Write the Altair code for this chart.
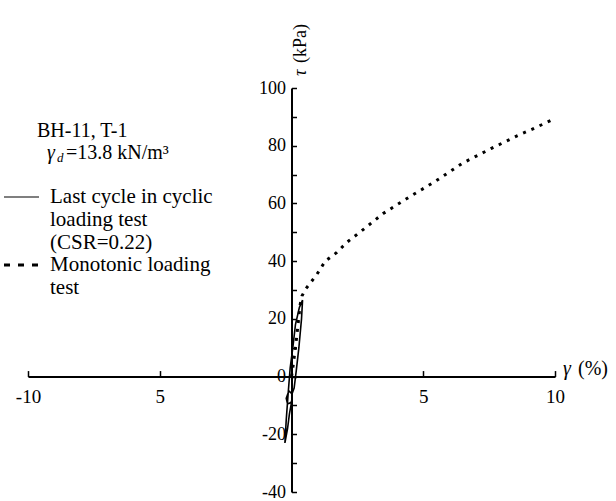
import altair as alt
import pandas as pd

# ---- data ----
mono_strain = [0, 0.05, 0.12, 0.2, 0.27, 0.33, 0.4, 0.55, 0.72, 0.97, 1.28, 1.72,
               2.1, 2.73, 3.48, 4.43, 5.43, 6.5, 7.57, 8.58, 9.2, 9.9]
mono_stress = [0, 3, 8, 14, 20, 25, 28, 30.5, 32.5, 35.5, 40, 43,
               46.5, 51, 56.5, 62, 67.5, 74, 79, 83.5, 86, 89]

cyc_strain = [-0.25, -0.2, -0.12, -0.05, 0.05, 0.15, 0.3, 0.42, 0.38, 0.28, 0.18,
              0.1, 0.02, -0.1, -0.2, -0.15, -0.02, 0.02, -0.08, -0.15, -0.25]
cyc_stress = [-23, -15, -5, 3, 10, 18, 24, 26.5, 20, 10, 2,
              -4, -6, -5, -7.5, -9.5, -9, -8, -13, -18, -23]

x_ticks = [-10, -5, 5, 10]
y_ticks = [-40, -20, 0, 20, 40, 60, 80, 100]
y_minor = [-40, -30, -20, -10, 0, 10, 20, 30, 40, 50, 60, 70, 80, 90, 100]

legend_head = "BH-11, T-1"
legend_cyclic = ["Last cycle in cyclic", "loading test", "(CSR=0.22)"]
legend_mono = ["Monotonic loading", "test"]

W, H = 527, 404
FONT = "Liberation Serif"
XDOM = [-10, 10]
YDOM = [-40, 100]

mono_df = pd.DataFrame({"strain": mono_strain, "stress": mono_stress,
                        "idx": range(len(mono_strain))})
cyc_df = pd.DataFrame({"strain": cyc_strain, "stress": cyc_stress,
                       "idx": range(len(cyc_strain))})

xs = alt.Scale(domain=XDOM, nice=False, zero=False)
ys = alt.Scale(domain=YDOM, nice=False, zero=False)

x_bottom = alt.Axis(orient="bottom", offset=-(H * 40 / 140), values=x_ticks,
                    labelExpr="datum.value == -5 ? '5' : toString(datum.value)",
                    ticks=False, grid=False, domain=True, domainWidth=2,
                    domainColor="black", labelFont=FONT, labelFontSize=19,
                    labelColor="black", labelPadding=11, title=None,
                    labelFlush=False)
y_left = alt.Axis(orient="left", offset=-(W / 2), values=y_ticks, ticks=False,
                  labelExpr="toString(datum.value)",
                  grid=False, domain=True, domainWidth=2, domainColor="black",
                  labelFont=FONT, labelFontSize=18, labelColor="black",
                  labelPadding=6, title=None, labelFlush=False)
x_top = alt.Axis(orient="top", offset=-(H * 100 / 140), values=x_ticks,
                 ticks=True, tickSize=6, tickWidth=1.5, tickColor="black",
                 labels=False, grid=False, domain=False, title=None)
y_right = alt.Axis(orient="right", offset=-(W / 2), values=y_minor,
                   ticks=True, tickSize=5, tickWidth=1.5, tickColor="black",
                   labels=False, grid=False, domain=False, title=None)

mono = alt.Chart(mono_df).mark_line(
    color="black", strokeWidth=3, strokeDash=[3, 6]
).encode(
    x=alt.X("strain:Q", scale=xs, axis=x_bottom),
    y=alt.Y("stress:Q", scale=ys, axis=y_left),
    order="idx:Q",
)

cyc = alt.Chart(cyc_df).mark_line(color="black", strokeWidth=1.6).encode(
    x=alt.X("strain:Q", scale=xs, axis=x_top),
    y=alt.Y("stress:Q", scale=ys, axis=y_right),
    order="idx:Q",
)

one = alt.Data(values=[{}])


def txt(text, x, y, size=20, style="normal", align="left", baseline="middle",
        angle=0, line_height=None):
    kw = dict(font=FONT, fontSize=size, fontStyle=style, align=align,
              baseline=baseline, color="black")
    if angle:
        kw["angle"] = angle
    if line_height:
        kw["lineHeight"] = line_height
    return alt.Chart(one).mark_text(**kw).encode(
        x=alt.value(x), y=alt.value(y), text=alt.value(text))


texts = [
    txt(legend_head, 9, 43),
    txt("γ", 19, 65, style="italic"),
    txt("d", 29, 70, size=13, style="italic"),
    txt("=13.8  kN/m³", 38, 65),
    txt(legend_cyclic, 22, 98, line_height=23, baseline="top", size=21),
    txt(legend_mono, 22, 166, line_height=23, baseline="top", size=21),
    txt("γ", 535, 281, size=20, style="italic"),
    txt("(%)", 550, 281, size=20),
    txt("τ", 273, -12, size=18, style="italic", angle=270),
    txt("(kPa)", 273, -25, size=18, angle=270),
]

sym_solid = alt.Chart(one).mark_rule(color="black", strokeWidth=1.2).encode(
    x=alt.value(-24), x2=alt.value(11), y=alt.value(109))
sym_dash = alt.Chart(one).mark_rule(color="black", strokeWidth=3,
                                    strokeDash=[6, 8]).encode(
    x=alt.value(-24), x2=alt.value(13), y=alt.value(177))

chart = alt.layer(mono, cyc, sym_solid, sym_dash, *texts).resolve_axis(
    x="independent", y="independent"
).properties(
    width=W, height=H,
    padding={"left": 28, "top": 88, "right": 61, "bottom": 9},
    autosize=alt.AutoSizeParams(type="none"),
    background="white",
).configure_view(stroke=None)

chart.save("out.html", embed_options={"renderer": "svg", "actions": False})
